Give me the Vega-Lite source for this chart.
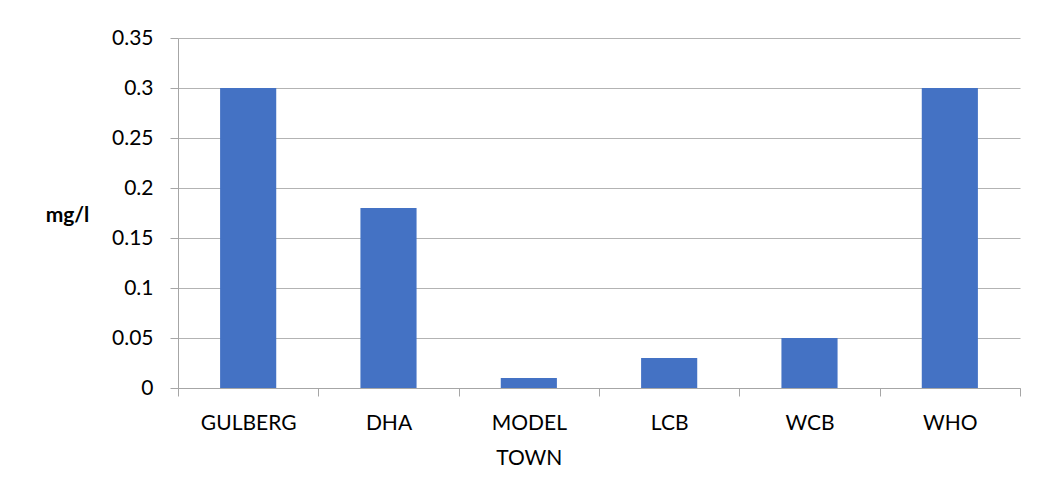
{
  "$schema": "https://vega.github.io/schema/vega-lite/v6.json",
  "width": 842,
  "height": 350,
  "autosize": {"type": "none"},
  "padding": {"left": 178, "top": 38, "right": 30, "bottom": 99},
  "background": "white",
  "config": {
    "view": {"stroke": null},
    "font": "Lato"
  },
  "data": {
    "values": [
      {"site": "GULBERG", "value": 0.3},
      {"site": "DHA", "value": 0.18},
      {"site": "MODEL TOWN", "value": 0.01},
      {"site": "LCB", "value": 0.03},
      {"site": "WCB", "value": 0.05},
      {"site": "WHO", "value": 0.3}
    ]
  },
  "mark": {"type": "bar", "color": "#4472C4", "width": {"band": 0.4}},
  "encoding": {
    "x": {
      "field": "site",
      "type": "nominal",
      "sort": null,
      "scale": {"paddingInner": 0, "paddingOuter": 0},
      "axis": {
        "title": null,
        "labelAngle": 0,
        "labelFont": "Lato",
        "labelFontSize": 21,
        "labelColor": "#000000",
        "labelPadding": 16,
        "labelLineHeight": 35,
        "labelExpr": "split(datum.label, ' ')",
        "tickBand": "extent",
        "tickSize": 8,
        "tickColor": "#a6a6a6",
        "domainColor": "#a6a6a6",
        "grid": false
      }
    },
    "y": {
      "field": "value",
      "type": "quantitative",
      "scale": {"domain": [0, 0.35], "nice": false},
      "axis": {
        "title": "mg/l",
        "titleAngle": 0,
        "titleFont": "Lato",
        "titleFontSize": 21,
        "titleFontWeight": "bold",
        "titleColor": "#000000",
        "titleAlign": "center",
        "titleBaseline": "middle",
        "titleX": -111,
        "titleY": 177,
        "values": [0, 0.05, 0.1, 0.15, 0.2, 0.25, 0.3, 0.35],
        "labelExpr": "datum.value === 0 ? '0' : format(datum.value, '~g')",
        "labelFont": "Lato",
        "labelFontSize": 21,
        "labelColor": "#000000",
        "labelPadding": 17,
        "tickSize": 8,
        "tickColor": "#a6a6a6",
        "domainColor": "#a6a6a6",
        "grid": true,
        "gridColor": "#b3b3b3"
      }
    }
  }
}
